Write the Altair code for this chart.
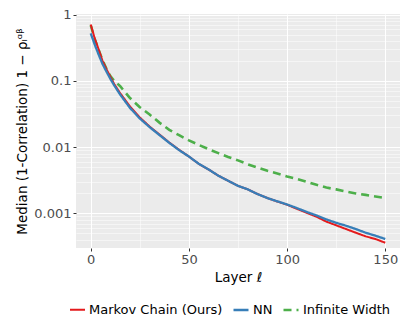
import altair as alt
import pandas as pd

layers = [0, 2, 4, 6, 8, 10, 12, 15, 20, 25, 30, 35, 40, 45, 50, 55, 60, 65, 70, 75,
          80, 85, 90, 95, 100, 105, 110, 115, 120, 125, 130, 135, 140, 145, 150]

markov = [0.71, 0.44, 0.30, 0.20, 0.15, 0.115, 0.089, 0.065, 0.041, 0.028, 0.0204,
          0.0155, 0.0117, 0.0091, 0.0072, 0.0056, 0.0046, 0.0037, 0.0031, 0.0026,
          0.0023, 0.00195, 0.0017, 0.00151, 0.00135, 0.00117, 0.00102, 0.00089,
          0.00075, 0.00066, 0.00058, 0.00051, 0.00045, 0.00041, 0.00036]

nn = [0.52, 0.355, 0.25, 0.18, 0.138, 0.107, 0.085, 0.062, 0.039, 0.027, 0.020,
      0.0152, 0.0116, 0.0090, 0.0072, 0.0056, 0.0046, 0.0037, 0.0031, 0.0026,
      0.0023, 0.00195, 0.0017, 0.00152, 0.00136, 0.0012, 0.00105, 0.00093,
      0.00081, 0.00072, 0.00065, 0.00058, 0.00051, 0.00046, 0.00041]

infinite = [0.69, 0.43, 0.295, 0.205, 0.152, 0.118, 0.10, 0.083, 0.055, 0.040, 0.031,
            0.0234, 0.0182, 0.0151, 0.0126, 0.0108, 0.0093, 0.0081, 0.0071, 0.0063,
            0.0055, 0.0049, 0.0044, 0.0040, 0.0036, 0.0033, 0.0030, 0.0027,
            0.00245, 0.0023, 0.00214, 0.002, 0.0019, 0.0018, 0.0017]

series_names = ["Markov Chain (Ours)", "NN", "Infinite Width"]
series_colors = ["#e41a1c", "#377eb8", "#4daf4a"]
series_dash = [[1, 0], [1, 0], [8, 5]]
series_width = [2.0, 2.6, 2.4]
draw_order = ["Infinite Width", "Markov Chain (Ours)", "NN"]

x_ticks = [0, 25, 50, 75, 100, 125, 150]
y_ticks = [k * 10.0 ** e for e in range(-4, 1) for k in range(1, 10) if 0.0003 <= k * 10.0 ** e <= 1.02]

values_by_name = dict(zip(series_names, [markov, nn, infinite]))
rows = []
for name in draw_order:
    for l, v in zip(layers, values_by_name[name]):
        rows.append({"layer": l, "value": v, "series": name})
df = pd.DataFrame(rows)

major_y = "abs(log(datum.value)/LN10 - round(log(datum.value)/LN10)) < 0.001"
major_x = "datum.value % 50 == 0"

x_axis = alt.Axis(
    values=x_ticks,
    labelExpr=f"{major_x} ? format(datum.value, 'd') : ''",
    gridWidth={"condition": {"test": major_x, "value": 1.1}, "value": 0.5},
    tickOpacity={"condition": {"test": major_x, "value": 1}, "value": 0},
    title="Layer ℓ",
    labelOverlap=False,
    labelFlush=False,
)

y_axis = alt.Axis(
    values=y_ticks,
    labelExpr=f"{major_y} ? format(datum.value, '~g') : ''",
    gridWidth={"condition": {"test": major_y, "value": 1.1}, "value": 0.5},
    tickOpacity={"condition": {"test": major_y, "value": 1}, "value": 0},
    title="Median (1-Correlation) 1 − ρₗᵅᵝ",
    labelOverlap=False,
    labelFlush=False,
)

chart = alt.Chart(df).mark_line(clip=True).encode(
    x=alt.X("layer:Q", scale=alt.Scale(domain=[-7.5, 157.5], nice=False, zero=False), axis=x_axis),
    y=alt.Y("value:Q", scale=alt.Scale(type="log", domain=[0.0003, 1.02], nice=False), axis=y_axis),
    color=alt.Color("series:N",
                    scale=alt.Scale(domain=series_names, range=series_colors),
                    sort=series_names,
                    legend=alt.Legend(title=None, orient="none", direction="horizontal",
                                      legendX=-7, legendY=287,
                                      symbolType="stroke", symbolSize=225, symbolStrokeWidth=2.5,
                                      labelFontSize=13, labelColor="#000000", labelOffset=3,
                                      columnPadding=5, labelFont="DejaVu Sans")),
    strokeDash=alt.StrokeDash("series:N",
                              scale=alt.Scale(domain=series_names, range=series_dash),
                              sort=series_names, legend=None),
    strokeWidth=alt.StrokeWidth("series:N",
                                scale=alt.Scale(domain=series_names, range=series_width),
                                legend=None),
).properties(
    width=324,
    height=234,
    autosize=alt.AutoSizeParams(type="none"),
    padding={"left": 68, "top": 6, "right": 7, "bottom": 80},
).configure_view(
    fill="#ebebeb", stroke=None
).configure_axis(
    domain=False,
    gridColor="#ffffff",
    tickColor="#333333",
    tickSize=3,
    tickWidth=1,
    labelColor="#4d4d4d",
    labelFontSize=13,
    labelFont="DejaVu Sans",
    titleFont="DejaVu Sans",
    titleFontSize=13.5,
    titleFontWeight="normal",
    titleColor="#000000",
    labelPadding=2,
).configure_axisY(
    titlePadding=4,
).configure_axisX(
    titlePadding=4,
)

chart.save("out.html", embed_options={"renderer": "svg", "actions": False})
